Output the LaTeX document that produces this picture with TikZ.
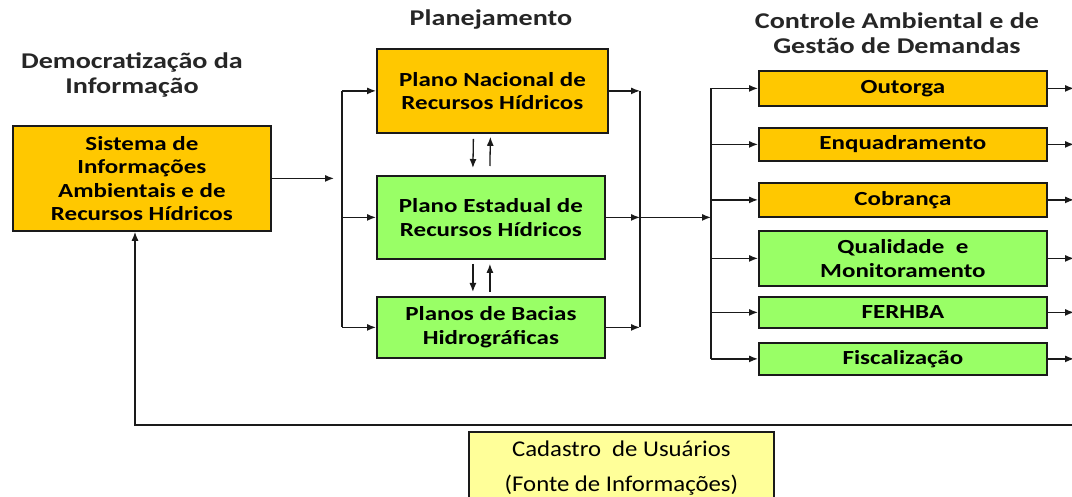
\documentclass[tikz,border=0pt]{standalone}
\usepackage{fontspec}
\setmainfont{Carlito}
\newfontfamily\bfam{Carlito}[FakeStretch=1.25]
\newfontfamily\rfam{Carlito}[FakeStretch=1.1]
\usetikzlibrary{arrows.meta}
\definecolor{orangeC}{HTML}{FFC800}
\definecolor{greenC}{HTML}{99FF66}
\definecolor{yellowC}{HTML}{FFFF99}
\definecolor{lineC}{HTML}{1A1A1A}
\tikzset{
  box/.style={draw=lineC, line width=1.8pt, align=center, inner sep=0pt, anchor=north west,
    font=\bfam\bfseries\fontsize{20}{23.5}\selectfont},
  obox/.style={box, fill=orangeC},
  gbox/.style={box, fill=greenC},
  title/.style={align=center, font=\bfam\bfseries\fontsize{22.5}{25.5}\selectfont, text=black!85},
  arr/.style={draw=lineC, line width=1.3pt, -{Latex[length=9pt,width=7pt]}},
  ln/.style={draw=lineC, line width=1.3pt},
}
\begin{document}
\begin{tikzpicture}[x=1pt,y=-1pt]
\useasboundingbox (0,0) rectangle (1072,497);
\clip (0,0) rectangle (1072,497);
% titles
\node[title] (t1) at (132,75) {Democratização da\\Informação};
\node[title] (t2) at (491,20) {Planejamento};
\node[title] (t3) at (897,33) {Controle Ambiental e de\\Gestão de Demandas};
% left box
\node[obox, minimum width=258pt, minimum height=105pt] (sis) at (12,125) {Sistema de\\Informações\\Ambientais e de\\Recursos Hídricos};
% planning boxes
\node[obox, minimum width=231pt, minimum height=84pt] (pn) at (376,48) {Plano Nacional de\\Recursos Hídricos};
\node[gbox, minimum width=228pt, minimum height=83pt] (pe) at (376,175) {Plano Estadual de\\Recursos Hídricos};
\node[gbox, minimum width=228pt, minimum height=61pt] (pb) at (376,296) {Planos de Bacias\\Hidrográficas};
% control boxes
\node[obox, minimum width=288pt, minimum height=35pt] (out) at (758,70) {Outorga};
\node[obox, minimum width=288pt, minimum height=33pt] (enq) at (758,127) {Enquadramento};
\node[obox, minimum width=288pt, minimum height=34pt] (cob) at (758,182) {Cobrança};
\node[gbox, minimum width=288pt, minimum height=55pt] (qual) at (758,230) {Qualidade \ e\\Monitoramento};
\node[gbox, minimum width=288pt, minimum height=31pt] (fer) at (758,296) {FERHBA};
\node[gbox, minimum width=288pt, minimum height=32pt] (fis) at (758,342) {Fiscalização};
% cadastro
\node[box, fill=yellowC, minimum width=305pt, minimum height=72pt,
  font=\rfam\fontsize{22.5}{35}\selectfont] (cad) at (468,431) {Cadastro \ de Usuários\\(Fonte de Informações)};
% bus coordinates
\coordinate (lx) at (342,0);
\coordinate (rx) at (640,0);
\coordinate (cx) at (711,0);
\coordinate (ex) at (1074,0);
\coordinate (fb) at (135,425);
\coordinate (fr) at (1080,425);
% SIS to left bus
\draw[arr] (sis.east) -- ([xshift=-8pt]sis.east -| lx);
% left bus
\draw[ln] (pn.west -| lx) -- (pb.west -| lx);
\draw[arr] (pn.west -| lx) -- (pn.west);
\draw[arr] (pe.west -| lx) -- (pe.west);
\draw[arr] (pb.west -| lx) -- (pb.west);
% vertical exchanges
\draw[arr] ([xshift=-19pt,yshift=-5pt]pn.south) -- ([xshift=-18pt,yshift=7pt]pe.north);
\draw[arr] ([xshift=-1pt,yshift=9pt]pe.north) -- ([xshift=-2pt,yshift=-3pt]pn.south);
\draw[arr] ([xshift=-18pt,yshift=-4pt]pe.south) -- ([xshift=-18pt,yshift=4pt]pb.north);
\draw[arr] ([xshift=-1pt,yshift=4pt]pb.north) -- ([xshift=-1pt,yshift=-4pt]pe.south);
% right bus
\draw[arr] (pn.east) -- (pn.east -| rx);
\draw[arr] (pe.east) -- (pe.east -| rx);
\draw[arr] (pb.east) -- (pb.east -| rx);
\draw[ln] (pn.east -| rx) -- (pb.east -| rx);
\draw[arr] (pe.east -| rx) -- (pe.east -| cx);
% control bus
\draw[ln] (out.west -| cx) -- (fis.west -| cx);
\foreach \n in {out,enq,cob,qual,fer,fis}{
  \draw[arr] (\n.west -| cx) -- (\n.west);
  \draw[arr] (\n.east) -- (\n.east -| ex);
}
% feedback
\draw[arr] (fr) -- (fb) -- (sis.south -| fb);
\end{tikzpicture}
\end{document}
